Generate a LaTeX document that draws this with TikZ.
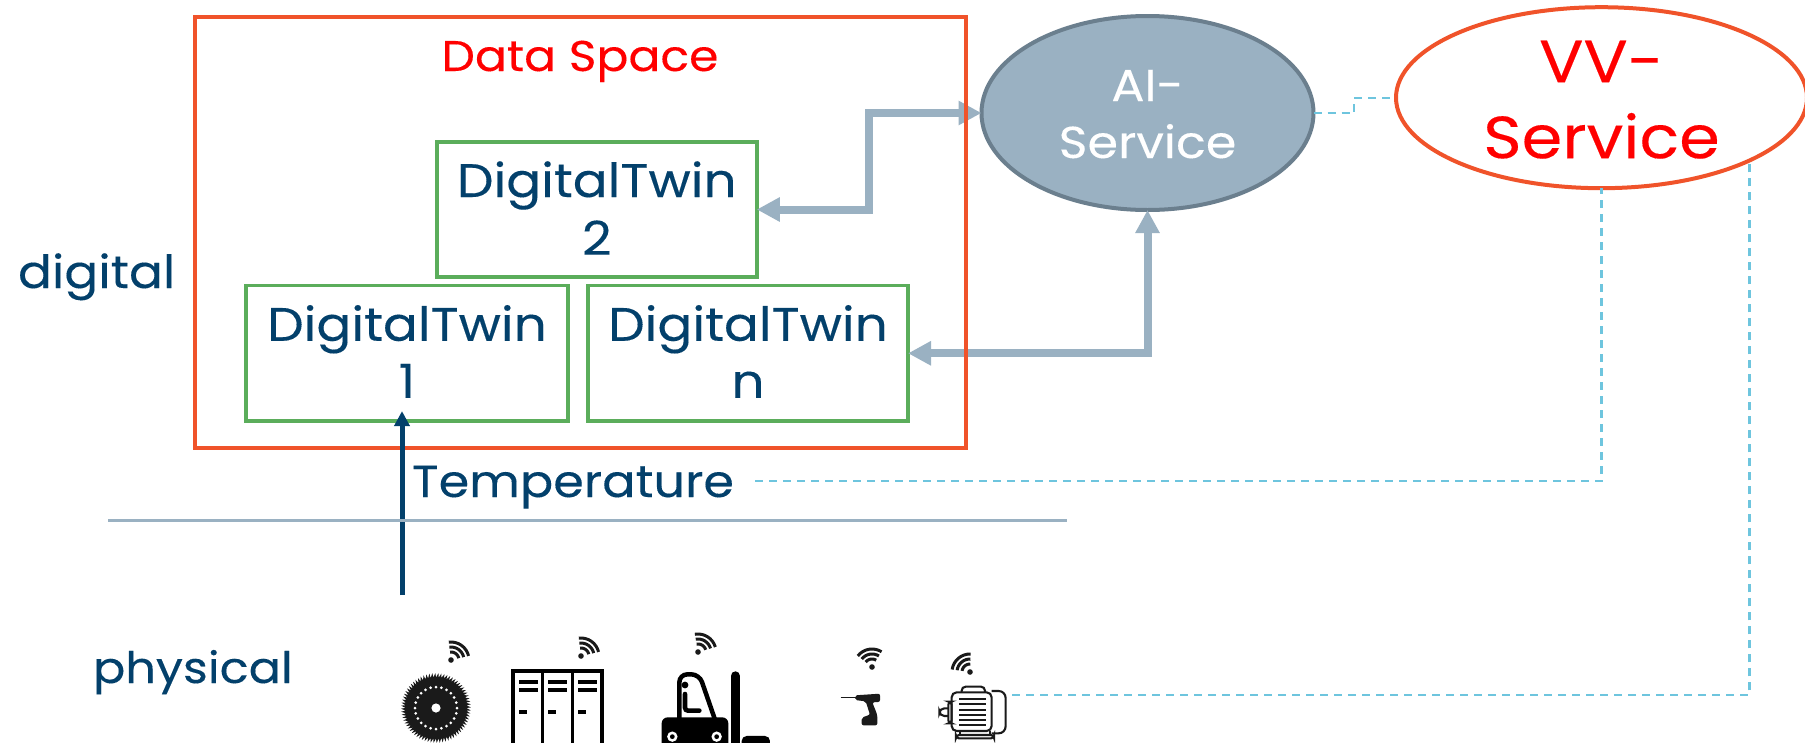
\documentclass[tikz,border=0pt]{standalone}
\usepackage{fontspec}
\setmainfont[FakeStretch=1.1,FakeBold=0.2]{Poppins}
\usetikzlibrary{arrows.meta,shapes.geometric}
\definecolor{navy}{HTML}{03406B}
\definecolor{greenbox}{HTML}{5BAD5B}
\definecolor{orangered}{HTML}{F0532A}
\definecolor{steel}{HTML}{9AB1C2}
\definecolor{steeldark}{HTML}{6B7F8E}
\definecolor{dashblue}{HTML}{6EC5DE}
\definecolor{ink}{HTML}{1A1A1A}
\newcommand{\placed}[2]{\makebox[0pt]{\raisebox{#1}[0pt][0pt]{#2}}}
\newcommand{\wifi}[3]{%
  \begin{scope}[shift={(#1,#2)}]
    \fill[ink] (0,0) circle[radius=2.8pt];
    \foreach \r in {8,13,18}
      \draw[ink,line width=3pt] plot[smooth,domain={#3-42}:{#3+42},samples=9] ({\r*cos(\x)},{-\r*sin(\x)});
  \end{scope}}
\tikzset{
  every node/.style={outer sep=0pt,inner sep=0pt},
  twinbox/.style={draw=greenbox,line width=3.8pt,rectangle,minimum height=135.6pt,text=navy,font=\fontsize{47}{47}\selectfont},
  spacebox/.style={draw=orangered,line width=4pt,rectangle,minimum width=771pt,minimum height=431pt},
  aiell/.style={ellipse,draw=steeldark,fill=steel,line width=4pt,minimum width=332pt,minimum height=194pt,text=white,font=\fontsize{44.7}{45}\selectfont},
  vvell/.style={ellipse,draw=orangered,fill=white,line width=4pt,minimum width=411pt,minimum height=181pt,text=red},
  labeltext/.style={anchor=base west,text=navy},
  flow/.style={draw=steel,line width=8pt,{Triangle[length=23pt,width=23pt]}-{Triangle[length=23pt,width=23pt]}},
  sensorline/.style={draw=navy,line width=5pt,-{Triangle[length=15pt,width=15pt]}},
  dashlink/.style={draw=dashblue,line width=2.2pt,dash pattern=on 8pt off 6pt},
  divider/.style={draw=steel,line width=3pt},
}
\begin{document}
\begin{tikzpicture}[x=1pt,y=-1pt]
\path[clip,use as bounding box] (0,0) rectangle (1805,742);
\fill[white] (0,0) rectangle (1805,742);

% twins and services
\node[twinbox,minimum width=320pt] (dt2) at (596.8,209.5) {\placed{12.5pt}{DigitalTwin}\placed{-45.5pt}{2}};
\node[twinbox,minimum width=321.5pt] (dt1) at (407,353.3) {\placed{12.5pt}{DigitalTwin}\placed{-44.5pt}{1}};
\node[twinbox,minimum width=320pt] (dtn) at (748,353.3) {\placed{12.5pt}{DigitalTwin}\placed{-44.5pt}{n}};
\node[aiell] (ai) at (1147.5,113) {\placed{12pt}{AI-}\placed{-45pt}{Service}};
\node[vvell] (vv) at (1601.5,97.7) {\fontsize{59.5}{60}\selectfont\placed{15.5pt}{VV-}\placed{-60.5pt}{Service}};

% flows
\coordinate (bendtwo) at (869,160);
\draw[flow] (dt2.east) -| (bendtwo) |- (ai.west);
\draw[flow] (dtn.east) -| (ai.south);

% data space
\node[spacebox] (space) at (580.5,232) {};
\node[anchor=base,text=red,font=\fontsize{43}{45}\selectfont] (spacetitle) at (580,71) {Data Space};

% sensor arrow and divider
\coordinate (sensor) at (402,595);
\draw[sensorline] (sensor) -- ([yshift=10pt]dt1.south -| sensor);
\coordinate (divleft) at (108,520);
\coordinate (divright) at (1067,520);
\draw[divider] (divleft) -- (divright);

% labels
\node[labeltext,font=\fontsize{45.7}{45}\selectfont] (digital) at (18,288) {digital};
\node[labeltext,font=\fontsize{43.5}{45}\selectfont] (physical) at (93,683) {physical};
\node[labeltext,font=\fontsize{44.8}{45}\selectfont] (temperature) at (412,497) {Temperature};

% dashed links
\coordinate (bendai) at (1354,105);
\coordinate (tempend) at (755,481);
\coordinate (motorend) at (1012,695);
\draw[dashlink] (ai.east) -| (bendai) |- (vv.west);
\draw[dashlink] (tempend) -| (vv.south);
\draw[dashlink] (motorend) -| (vv.-23.6);

% saw blade
\begin{scope}[shift={(436,708)}]
  \fill[ink] (0:30.5) \foreach \i in {0,...,71}{ -- ({30.5*cos(\i*5)},{30.5*sin(\i*5)}) -- ({35*cos(\i*5+4)},{35*sin(\i*5+4)}) -- ({30.5*cos(\i*5+5)},{30.5*sin(\i*5+5)})} -- cycle;
  \foreach \i in {0,...,23} \fill[white] ({21*cos(\i*15)},{21*sin(\i*15)}) circle[radius=1.5pt];
  \fill[white] (0,0) circle[radius=4.6pt];
\end{scope}
\wifi{451}{660}{55}

% lockers
\draw[black,line width=3.6pt] (513,671) rectangle (602,750);
\draw[black,line width=3.6pt] (542.5,671) -- (542.5,750) (572.5,671) -- (572.5,750);
\foreach \lx in {518.5,548,578}{
  \fill[black] (\lx,680) rectangle ++(19,4);
  \fill[black] (\lx,687.5) rectangle ++(19,4);
  \fill[black] (\lx,709.5) rectangle ++(8,4.5);
}
\wifi{581}{656}{55}

% forklift
\begin{scope}[shift={(640pt,-620pt)},x=0.3333pt,y=-0.3333pt]
  \draw[black,line width=4.5pt,rounded corners=8pt] (118,296) -- (118,163) -- (178,163) -- (224,296);
  \fill[black] (135,195) circle[radius=3.4pt];
  \draw[black,line width=4.6pt,line cap=round,rounded corners=3pt] (135,222) -- (135,272) -- (178,272);
  \fill[black,rounded corners=6pt] (65,400) -- (65,292) -- (265,292) -- (265,400) -- cycle;
  \foreach \wx in {97,230}{
    \fill[white] (\wx,350) circle[radius=5.2pt];
    \fill[black] (\wx,350) circle[radius=2.4pt];
  }
  \draw[black,line width=9.4pt,line cap=round] (286,168) -- (286,400);
  \fill[black,rounded corners=5pt] (305,400) -- (305,348) -- (390,348) -- (390,400) -- cycle;
\end{scope}
\wifi{698}{652}{58}

% drill
\begin{scope}[shift={(800pt,-620pt)},x=0.3333pt,y=-0.3333pt]
  \draw[ink,line width=1pt] (122,232) -- (165,232);
  \fill[ink,rounded corners=2pt] (165,226) -- (240,221) -- (240,246) -- (217,247) -- (232,285) -- (232,316) -- (185,316) -- (185,293) -- (210,284) -- (197,244) -- (165,240) -- cycle;
\end{scope}
\wifi{872}{667}{100}

% motor
\begin{scope}[shift={(800pt,-620pt)},x=0.3333pt,y=-0.3333pt,ink,line width=2.1pt]
  \draw[rounded corners=4pt] (485,217) -- (485,200) -- (555,200) -- (555,217);
  \draw[rounded corners=7pt] (575,213) -- (617,213) -- (617,340) -- (575,340);
  \draw[rounded corners=5pt] (455,217) rectangle (575,333);
  \draw[rounded corners=3pt] (445,245) rectangle (455,310);
  \draw[rounded corners=5pt] (445,265) -- (418,265) -- (418,288) -- (445,288);
  \foreach \fy in {237,253,269,285,300,316}
    \draw[line width=1.7pt] (478,\fy) -- (558,\fy);
  \draw (480,333) -- (480,345) (570,333) -- (570,345);
  \draw[rounded corners=3pt] (468,345) rectangle (582,355);
\end{scope}
\wifi{970}{672}{130}
\end{tikzpicture}
\end{document}
